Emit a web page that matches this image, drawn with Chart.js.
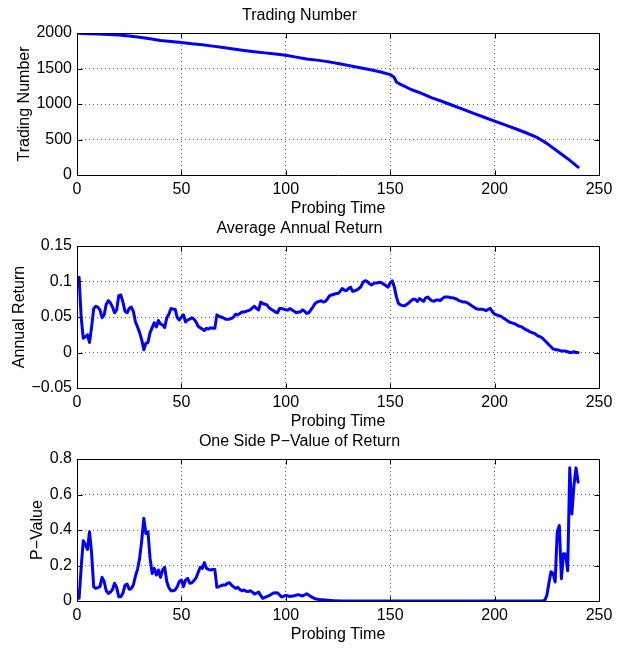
<!DOCTYPE html>
<html>
<head>
<meta charset="utf-8">
<title>Probing Time</title>
<script src="https://cdn.jsdelivr.net/npm/chart.js@4.4.0/dist/chart.umd.min.js"></script>
<style>
  html, body { margin: 0; padding: 0; background: #fff; width: 622px; height: 648px; overflow: hidden; }
  canvas { position: absolute; left: 0; }
</style>
</head>
<body>
<canvas id="tradeChart" width="622" height="230" style="top: 0px;"></canvas>
<canvas id="returnChart" width="622" height="230" style="top: 213px;"></canvas>
<canvas id="pvalueChart" width="622" height="230" style="top: 426px;"></canvas>
<script>
// x axis (shared)
const xTickValues = [0, 50, 100, 150, 200, 250];
const xTickLabels = ['0', '50', '100', '150', '200', '250'];

// Trading Number
const tradeTimes = [1, 5, 10, 15, 20, 25, 30, 35, 40, 45, 50, 55, 60, 65, 70, 75, 80, 85, 90, 95,
  100, 105, 110, 115, 120, 125, 130, 135, 140, 145, 150, 151, 152, 153, 155, 160, 165, 170, 175, 180,
  185, 190, 195, 200, 205, 210, 215, 220, 225, 230, 235, 240];
const tradeCounts = [1995, 1990, 1985, 1978, 1972, 1958, 1940, 1920, 1895, 1880, 1865, 1848, 1836, 1815, 1795, 1775, 1755, 1737, 1720, 1703,
  1686, 1660, 1635, 1618, 1597, 1570, 1541, 1513, 1485, 1455, 1414, 1395, 1370, 1310, 1275, 1204, 1150, 1087, 1035, 979,
  925, 867, 813, 759, 705, 651, 595, 534, 445, 337, 230, 110];
const tradeTicks = [0, 500, 1000, 1500, 2000];
const tradeTickLabels = ['0', '500', '1000', '1500', '2000'];

// Average Annual Return, one value per probing time 1..240
const returnTimes = Array.from({ length: 240 }, (_, i) => i + 1);
const returnValues = [
  0.106, 0.050, 0.020, 0.022, 0.025, 0.014, 0.036, 0.062, 0.065, 0.064,
  0.060, 0.049, 0.053, 0.068, 0.073, 0.070, 0.064, 0.056, 0.060, 0.080,
  0.081, 0.071, 0.058, 0.056, 0.062, 0.064, 0.058, 0.043, 0.036, 0.028,
  0.018, 0.004, 0.013, 0.014, 0.028, 0.035, 0.042, 0.036, 0.045, 0.040,
  0.039, 0.035, 0.049, 0.054, 0.062, 0.061, 0.061, 0.049, 0.046, 0.050,
  0.053, 0.043, 0.046, 0.047, 0.049, 0.047, 0.043, 0.037, 0.035, 0.033,
  0.031, 0.034, 0.033, 0.035, 0.034, 0.034, 0.053, 0.051, 0.050, 0.049,
  0.047, 0.047, 0.047, 0.048, 0.050, 0.054, 0.053, 0.055, 0.057, 0.057,
  0.058, 0.059, 0.060, 0.063, 0.065, 0.062, 0.060, 0.071, 0.069, 0.068,
  0.067, 0.063, 0.061, 0.059, 0.057, 0.056, 0.062, 0.062, 0.061, 0.060,
  0.060, 0.062, 0.060, 0.058, 0.056, 0.057, 0.057, 0.060, 0.058, 0.055,
  0.056, 0.060, 0.064, 0.069, 0.071, 0.072, 0.073, 0.071, 0.072, 0.076,
  0.080, 0.081, 0.082, 0.083, 0.083, 0.086, 0.090, 0.088, 0.087, 0.090,
  0.092, 0.086, 0.087, 0.088, 0.090, 0.093, 0.099, 0.101, 0.100, 0.097,
  0.095, 0.097, 0.098, 0.098, 0.099, 0.098, 0.096, 0.094, 0.092, 0.098,
  0.101, 0.092, 0.078, 0.069, 0.067, 0.066, 0.066, 0.068, 0.070, 0.073,
  0.075, 0.075, 0.072, 0.076, 0.074, 0.072, 0.077, 0.078, 0.075, 0.073,
  0.072, 0.074, 0.074, 0.073, 0.076, 0.078, 0.078, 0.078, 0.077, 0.077,
  0.076, 0.075, 0.073, 0.072, 0.071, 0.071, 0.070, 0.068, 0.066, 0.064,
  0.062, 0.061, 0.061, 0.061, 0.060, 0.059, 0.061, 0.062, 0.057, 0.054,
  0.053, 0.052, 0.051, 0.049, 0.047, 0.045, 0.043, 0.042, 0.041, 0.040,
  0.038, 0.037, 0.036, 0.034, 0.032, 0.031, 0.029, 0.028, 0.027, 0.025,
  0.023, 0.022, 0.020, 0.017, 0.014, 0.011, 0.008, 0.005, 0.004, 0.004,
  0.003, 0.002, 0.002, 0.002, 0.001, 0.000, 0.000, 0.001, 0.000, 0.000
];
const returnTicks = [-0.05, 0, 0.05, 0.1, 0.15];
const returnTickLabels = ['\u22120.05', '0', '0.05', '0.1', '0.15'];

// One Side P-Value of Return
const pTimes = [1, 2, 3, 4, 5, 6, 7, 8, 9, 10, 11, 12, 13, 14, 15, 16, 17, 18, 19, 20,
  21, 22, 23, 24, 25, 26, 27, 28, 29, 30, 31, 32, 33, 34, 35, 36, 37, 38, 39, 40,
  41, 42, 43, 44, 45, 46, 47, 48, 49, 50, 51, 52, 53, 54, 55, 56, 57, 58, 59, 60,
  61, 62, 63, 64, 65, 66, 67, 68, 69, 70, 71, 72, 73, 74, 75, 76, 77, 78, 79, 80,
  81, 82, 83, 84, 85, 86, 87, 88, 89, 90, 92, 94, 96, 98, 100, 102, 104, 106, 108, 110,
  112, 114, 116, 119, 123, 127, 150, 200, 223, 224, 225, 226, 227, 228, 229, 230, 231, 232, 233, 234,
  235, 236, 237, 238, 239, 240];
const pValues = [0.015, 0.19, 0.34, 0.32, 0.29, 0.39, 0.27, 0.08, 0.071, 0.075, 0.081, 0.133, 0.11, 0.058, 0.043, 0.05, 0.065, 0.10, 0.077, 0.024,
  0.024, 0.045, 0.09, 0.095, 0.066, 0.07, 0.09, 0.14, 0.18, 0.24, 0.34, 0.466, 0.38, 0.39, 0.24, 0.155, 0.184, 0.146, 0.175, 0.133,
  0.175, 0.19, 0.11, 0.075, 0.058, 0.058, 0.062, 0.08, 0.11, 0.118, 0.081, 0.118, 0.128, 0.10, 0.103, 0.115, 0.13, 0.16, 0.19, 0.184,
  0.216, 0.184, 0.178, 0.175, 0.178, 0.178, 0.077, 0.081, 0.086, 0.090, 0.090, 0.100, 0.103, 0.090, 0.080, 0.071, 0.077, 0.065, 0.058, 0.062,
  0.055, 0.053, 0.058, 0.050, 0.039, 0.045, 0.050, 0.030, 0.015, 0.020, 0.030, 0.045, 0.047, 0.022, 0.032, 0.025, 0.030, 0.036, 0.028, 0.041,
  0.025, 0.013, 0.008, 0.005, 0.002, 0.0, 0.0, 0.0, 0.0, 0.004, 0.03, 0.10, 0.165, 0.154, 0.107, 0.39, 0.425, 0.126, 0.266, 0.265,
  0.17, 0.75, 0.49, 0.65, 0.75, 0.67];
const pTicks = [0, 0.2, 0.4, 0.6, 0.8];
const pTickLabels = ['0', '0.2', '0.4', '0.6', '0.8'];

const fontFamily = '"Liberation Sans", Arial, Helvetica, sans-serif';

// matlab style frame: full box plus short inward tick marks
const matlabBox = {
  id: 'matlabBox',
  afterDatasetsDraw(chart) {
    const { ctx, chartArea: a, scales } = chart;
    const L = Math.round(a.left) + 0.5, R = Math.round(a.right) + 0.5;
    const T = Math.round(a.top) + 0.5, B = Math.round(a.bottom) + 0.5;
    ctx.save();
    ctx.strokeStyle = '#000';
    ctx.lineWidth = 1;
    ctx.beginPath();
    scales.x.ticks.forEach(t => {
      const px = Math.round(scales.x.getPixelForValue(t.value)) + 0.5;
      ctx.moveTo(px, B); ctx.lineTo(px, B - 5);
      ctx.moveTo(px, T); ctx.lineTo(px, T + 5);
    });
    scales.y.ticks.forEach(t => {
      const py = Math.round(scales.y.getPixelForValue(t.value)) + 0.5;
      ctx.moveTo(L, py); ctx.lineTo(L + 5, py);
      ctx.moveTo(R, py); ctx.lineTo(R - 5, py);
    });
    ctx.rect(L, T, R - L, B - T);
    ctx.stroke();
    ctx.restore();
  }
};

function makeChart(id, title, yTitle, xs, ys, yTicks, yLabels, yTitlePad) {
  const points = xs.map((x, i) => ({ x: x, y: ys[i] }));
  return new Chart(document.getElementById(id), {
    type: 'line',
    data: {
      datasets: [{
        data: points,
        borderColor: '#0000ff',
        borderWidth: 3,
        borderJoinStyle: 'round',
        borderCapStyle: 'round',
        pointRadius: 0,
        tension: 0,
        fill: false
      }]
    },
    plugins: [matlabBox],
    options: {
      responsive: false,
      animation: false,
      devicePixelRatio: 1,
      layout: { padding: { left: 0, right: 23, top: 0, bottom: 0 } },
      plugins: {
        legend: { display: false },
        tooltip: { enabled: false },
        title: {
          display: true,
          text: title,
          color: '#000',
          font: { family: fontFamily, size: 16, weight: 'normal', lineHeight: 1.2 },
          padding: { top: 6, bottom: 7.8 }
        }
      },
      scales: {
        x: {
          type: 'linear',
          min: 0,
          max: 250,
          afterFit: s => { s.height = 55; },
          afterBuildTicks: s => { s.ticks = xTickValues.map(v => ({ value: v })); },
          ticks: {
            callback: (v, i) => xTickLabels[i],
            color: '#000',
            padding: 5,
            maxRotation: 0,
            autoSkip: false,
            font: { family: fontFamily, size: 16 }
          },
          grid: { color: '#666', lineWidth: 1, drawTicks: false },
          border: { display: false, dash: [1, 3] },
          title: {
            display: true,
            text: 'Probing Time',
            color: '#000',
            font: { family: fontFamily, size: 16 },
            padding: { top: 0, bottom: 11.4 }
          }
        },
        y: {
          type: 'linear',
          min: yTicks[0],
          max: yTicks[yTicks.length - 1],
          afterFit: s => { s.width = 77; },
          afterBuildTicks: s => { s.ticks = yTicks.map(v => ({ value: v })); },
          ticks: {
            callback: (v, i) => yLabels[i],
            color: '#000',
            padding: 5,
            autoSkip: false,
            font: { family: fontFamily, size: 16 }
          },
          grid: { color: '#666', lineWidth: 1, drawTicks: false },
          border: { display: false, dash: [1, 3] },
          title: {
            display: true,
            text: yTitle,
            color: '#000',
            font: { family: fontFamily, size: 16 },
            padding: { top: yTitlePad, bottom: 0 }
          }
        }
      }
    }
  });
}

makeChart('tradeChart', 'Trading Number', 'Trading Number', tradeTimes, tradeCounts, tradeTicks, tradeTickLabels, 14.5);
makeChart('returnChart', 'Average Annual Return', 'Annual Return', returnTimes, returnValues, returnTicks, returnTickLabels, 10.4);
makeChart('pvalueChart', 'One Side P\u2212Value of Return', 'P\u2212Value', pTimes, pValues, pTicks, pTickLabels, 28.4);
</script>
</body>
</html>
